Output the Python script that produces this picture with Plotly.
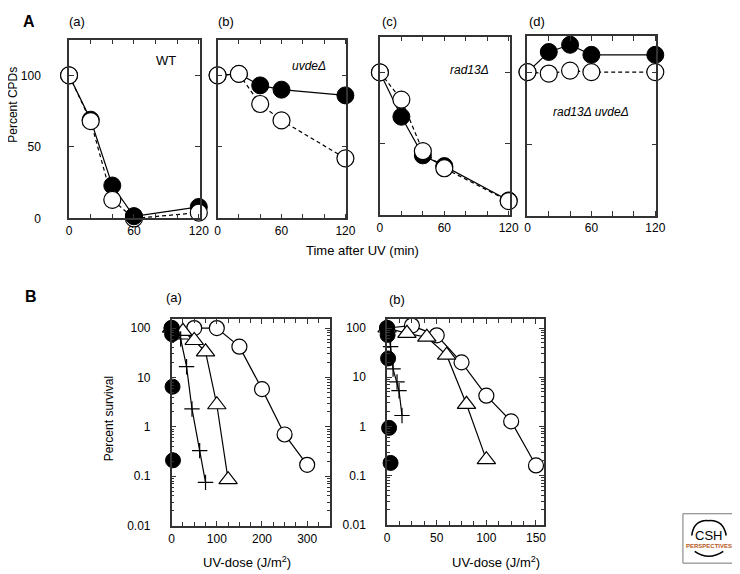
import plotly.graph_objects as go

W, H = 740, 574

# ---------------- Data: panel A (Percent CPDs vs time) ----------------
time_a = [0, 20, 40, 60, 120]
a_black = [100, 69, 23, 1.5, 8]
a_open = [100, 68, 13, 0, 4]

b_black = [100, 101, 93, 90, 86]
b_open = [100, 101, 80, 68.5, 42]

c_black = [100, 69, 42, 34.5, 10.5]
c_open = [100, 81, 45, 33, 10]

d_black = [100, 114, 119, 112, 112]
d_open = [100, 99, 101, 100, 100]

# ---------------- Data: panel B (Percent survival vs UV dose) ----------------
ba_open_x = [0, 50, 100, 150, 200, 250, 300]
ba_open_y = [100, 100, 100, 42, 5.8, 0.7, 0.17]
ba_tri_x = [0, 25, 50, 75, 100, 125]
ba_tri_y = [100, 86, 56, 33, 2.8, 0.085]
ba_cross_x = [0, 20, 33, 45, 62, 75]
ba_cross_y = [100, 60, 16.5, 2.3, 0.33, 0.075]
ba_black_x = [0, 1, 2, 3]
ba_black_y = [100, 75, 6.5, 0.21]

bb_open_x = [0, 25, 50, 75, 100, 125, 150]
bb_open_y = [100, 112, 71, 20, 4.2, 1.26, 0.16]
bb_tri_x = [0, 20, 40, 60, 80, 100]
bb_tri_y = [100, 78, 65, 28, 2.8, 0.21]
bb_cross_x = [0, 3.5, 6, 10, 12, 15]
bb_cross_y = [100, 42, 14.7, 8, 5.3, 1.66]
bb_black_x = [0, 0.5, 1, 2, 3.5]
bb_black_y = [100, 72, 24, 0.93, 0.18]

x_ticks_a = [0, 60, 120]
y_ticks_a = [0, 50, 100]
y_ticks_b = [0.01, 0.1, 1, 10, 100]
y_text_b = ["0.01", "0.1", "1", "10", "100"]

FONT = "Liberation Sans, Arial, sans-serif"
AX = "#333333"


def px(x):
    return x / W


def py(y):
    return 1 - y / H


fig = go.Figure()

# panel domains in pixels: (x0, x1, ytop, ybottom)
A_dom = [(59, 192, 32, 213), (210, 341, 32, 213), (375, 507, 29, 210), (525, 656, 28.5, 210.5)]
B_dom = [(163.3, 324, 315, 524), (382.3, 541.7, 315, 523)]

A_series = [(a_black, a_open), (b_black, b_open), (c_black, c_open), (d_black, d_open)]

layout = {}
for i, (dom, (blk, opn)) in enumerate(zip(A_dom, A_series)):
    n = i + 1
    xa = "x" if n == 1 else f"x{n}"
    ya = "y" if n == 1 else f"y{n}"
    fig.add_trace(go.Scatter(x=time_a, y=blk, xaxis=xa, yaxis=ya, mode="lines+markers",
                             line=dict(color="black", width=1.2),
                             marker=dict(symbol="circle", size=17, color="black",
                                         line=dict(color="black", width=1)),
                             cliponaxis=False, showlegend=False))
    fig.add_trace(go.Scatter(x=time_a, y=opn, xaxis=xa, yaxis=ya, mode="lines+markers",
                             line=dict(color="black", width=1.2, dash="4px,3px"),
                             marker=dict(symbol="circle", size=17, color="white",
                                         line=dict(color="black", width=1.2)),
                             cliponaxis=False, showlegend=False))
    if n == 1:
        # filled point at 60 min lies on top of the open one in the reference
        fig.add_trace(go.Scatter(x=[time_a[3]], y=[a_black[3]], xaxis=xa, yaxis=ya, mode="markers",
                                 marker=dict(symbol="circle", size=17, color="black",
                                             line=dict(color="black", width=1)),
                                 cliponaxis=False, showlegend=False))
    x0, x1, yt, yb = dom
    layout[f"xaxis{'' if n == 1 else n}"] = dict(
        domain=[px(x0), px(x1)], range=[0, 121], anchor=ya,
        tickmode="array", tickvals=x_ticks_a,
        ticks="inside", ticklen=5, tickwidth=1, tickcolor=AX,
        minor=dict(dtick=20, tick0=0, ticks="inside", ticklen=5, tickwidth=1, tickcolor=AX),
        showline=True, linecolor=AX, linewidth=1.5, mirror="ticks",
        showgrid=False, zeroline=False, ticklabelstandoff=0,
        tickfont=dict(family=FONT, size=12, color="black"))
    layout[f"yaxis{'' if n == 1 else n}"] = dict(
        domain=[py(yb), py(yt)], range=[0, 125], anchor=xa,
        tickmode="array", tickvals=y_ticks_a,
        showticklabels=(n == 1),
        ticks="inside", ticklen=5, tickwidth=1, tickcolor=AX,
        showline=True, linecolor=AX, linewidth=1.5, mirror="ticks",
        showgrid=False, zeroline=False, ticklabelstandoff=24,
        tickfont=dict(family=FONT, size=12, color="black"))

B_series = [
    (ba_open_x, ba_open_y, ba_tri_x, ba_tri_y, ba_cross_x, ba_cross_y, ba_black_x, ba_black_y, 350, 25),
    (bb_open_x, bb_open_y, bb_tri_x, bb_tri_y, bb_cross_x, bb_cross_y, bb_black_x, bb_black_y, 158, 12.5),
]
minor_log = []
for e in [0.01, 0.1, 1, 10]:
    minor_log += [e * k for k in range(2, 10)]

for j, (dom, s) in enumerate(zip(B_dom, B_series)):
    n = 5 + j
    xa, ya = f"x{n}", f"y{n}"
    ox, oy, tx, ty, cx, cy, bx, by, xmax, mdt = s
    fig.add_trace(go.Scatter(x=ox, y=oy, xaxis=xa, yaxis=ya, mode="lines+markers",
                             line=dict(color="black", width=1.2),
                             marker=dict(symbol="circle", size=15, color="white",
                                         line=dict(color="black", width=1.2)),
                             cliponaxis=False, showlegend=False))
    fig.add_trace(go.Scatter(x=tx, y=ty, xaxis=xa, yaxis=ya, mode="lines+markers",
                             line=dict(color="black", width=1.2),
                             marker=dict(symbol="triangle-up", size=16, color="white",
                                         line=dict(color="black", width=1.2)),
                             cliponaxis=False, showlegend=False))
    fig.add_trace(go.Scatter(x=cx, y=cy, xaxis=xa, yaxis=ya, mode="lines+markers",
                             line=dict(color="black", width=1.2),
                             marker=dict(symbol="cross-thin", size=11, color="black",
                                         line=dict(color="black", width=1.2)),
                             cliponaxis=False, showlegend=False))
    fig.add_trace(go.Scatter(x=bx, y=by, xaxis=xa, yaxis=ya, mode="markers",
                             marker=dict(symbol="circle", size=15, color="black",
                                         line=dict(color="black", width=1)),
                             cliponaxis=False, showlegend=False))
    x0, x1, yt, yb = dom
    xt = [0, 100, 200, 300] if xmax > 200 else [0, 50, 100, 150]
    layout[f"xaxis{n}"] = dict(
        domain=[px(x0), px(x1)], range=[0, xmax], anchor=ya,
        tickmode="array", tickvals=xt,
        ticks="inside", ticklen=5, tickwidth=1, tickcolor=AX,
        minor=dict(dtick=mdt, tick0=0, ticks="inside", ticklen=4, tickwidth=1, tickcolor=AX),
        showline=True, linecolor=AX, linewidth=1.5, mirror="ticks",
        showgrid=False, zeroline=False, ticklabelstandoff=1,
        tickfont=dict(family=FONT, size=12, color="black"))
    layout[f"yaxis{n}"] = dict(
        domain=[py(yb), py(yt)], type="log", range=[-2, 2.18], anchor=xa,
        tickmode="array", tickvals=y_ticks_b, ticktext=y_text_b,
        ticks="inside", ticklen=5, tickwidth=1, tickcolor=AX,
        minor=dict(tickmode="array", tickvals=minor_log, ticks="inside", ticklen=3,
                   tickwidth=1, tickcolor=AX),
        showline=True, linecolor=AX, linewidth=1.5, mirror="ticks",
        showgrid=False, zeroline=False, ticklabelstandoff=17,
        tickfont=dict(family=FONT, size=12, color="black"))


def ann(text, x, y, size=12, bold=False, rot=0, color="black", xanchor="center"):
    t = f"<b>{text}</b>" if bold else text
    return dict(text=t, x=px(x), y=py(y), xref="paper", yref="paper", showarrow=False,
                xanchor=xanchor, yanchor="middle", textangle=rot,
                font=dict(family=FONT, size=size, color=color))


annotations = [
    ann("A", 18, 14, size=16, bold=True),
    ann("(a)", 67, 14, size=13),
    ann("(b)", 219, 14, size=13),
    ann("(c)", 385, 14, size=13),
    ann("(d)", 535, 14, size=13),
    ann("WT", 158, 53, size=13),
    ann("<i>uvdeΔ</i>", 303, 59, size=12),
    ann("<i>rad13Δ</i>", 466, 63, size=12),
    ann("<i>rad13Δ uvdeΔ</i>", 590, 105, size=12),
    ann("Percent CPDs", 2, 98, size=12, rot=-90),
    ann("Time after UV (min)", 357, 245, size=13),
    ann("B", 20, 292, size=16, bold=True),
    ann("(a)", 166, 293, size=13),
    ann("(b)", 392, 295, size=13),
    ann("Percent survival", 100, 416, size=12, rot=-90),
    ann("UV-dose (J/m<sup>2</sup>)", 240, 561, size=13),
    ann("UV-dose (J/m<sup>2</sup>)", 493, 561, size=13),
    ann("CSH", 709, 534, size=13),
    ann("PERSPECTIVES", 709, 545, size=6, bold=True, color="#b5561a"),
]

shapes = [
    dict(type="rect", xref="paper", yref="paper", x0=px(683), x1=px(734), y0=py(562), y1=py(512),
         line=dict(color="#777777", width=1), fillcolor="white", layer="below"),
    dict(type="path", xref="paper", yref="paper",
         path=f"M {px(692)},{py(534)} Q {px(694)},{py(518)} {px(709)},{py(519)} Q {px(724)},{py(518)} {px(727)},{py(534)}",
         line=dict(color="black", width=1.5)),
    dict(type="path", xref="paper", yref="paper",
         path=f"M {px(695)},{py(550)} Q {px(709)},{py(560)} {px(724)},{py(550)}",
         line=dict(color="black", width=1.5)),
]

fig.update_layout(
    width=W, height=H, margin=dict(l=0, r=0, t=0, b=0),
    paper_bgcolor="white", plot_bgcolor="white",
    annotations=annotations, shapes=shapes, **layout)

fig.write_html("out.html")
